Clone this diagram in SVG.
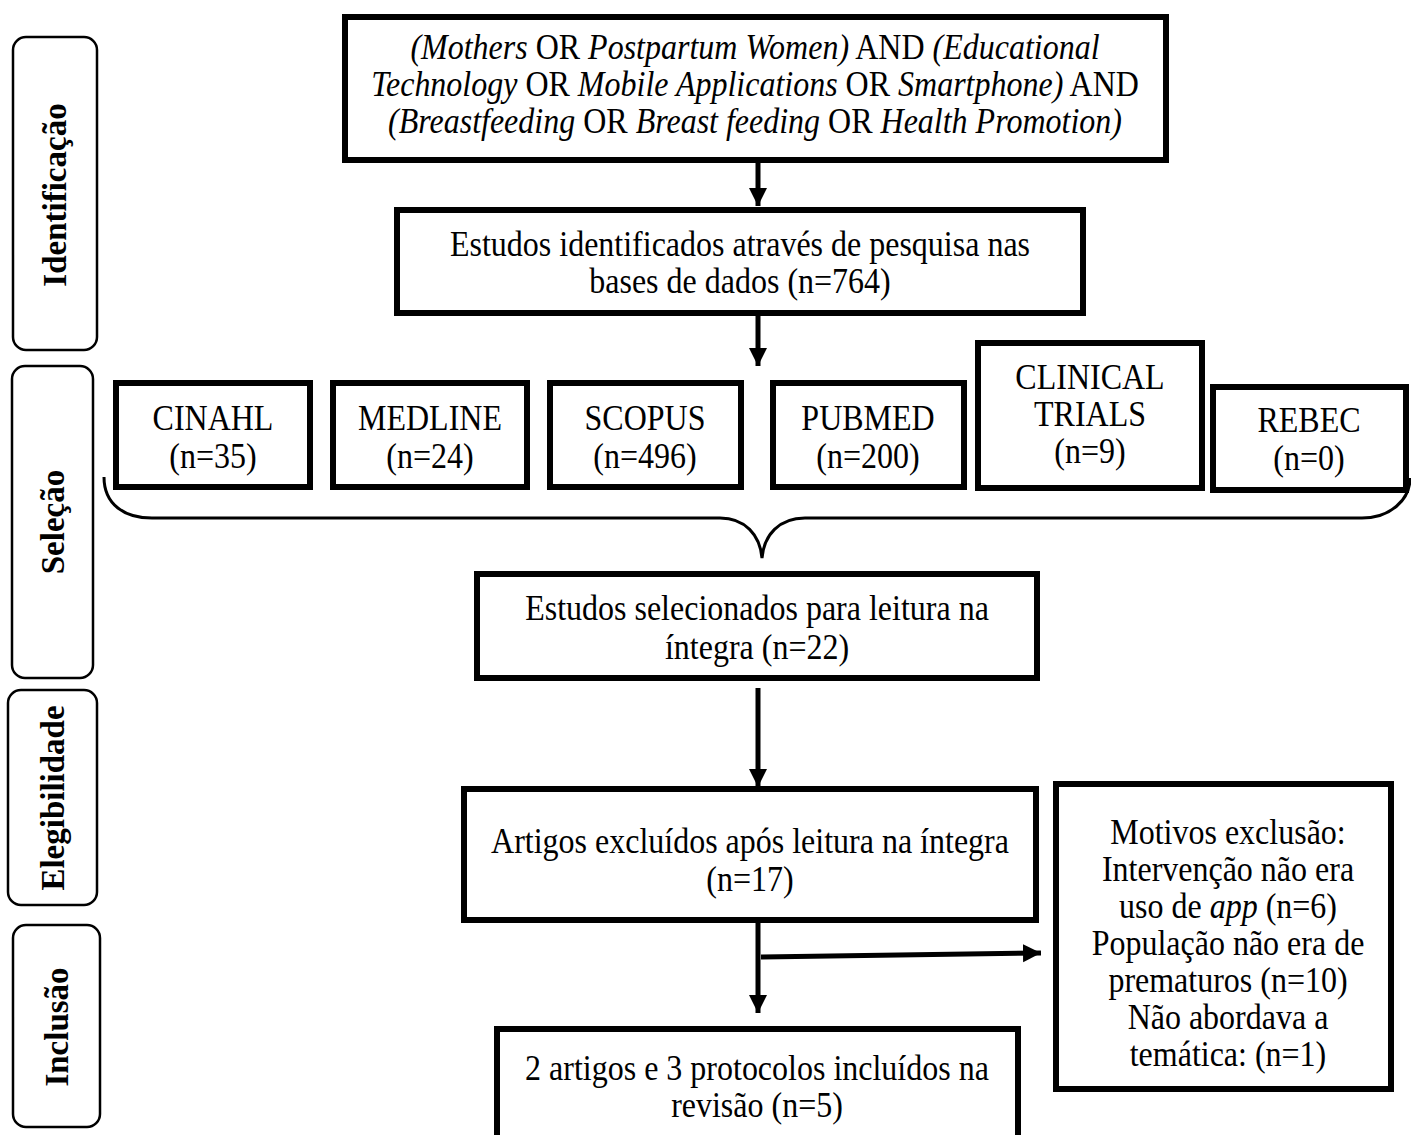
<svg xmlns="http://www.w3.org/2000/svg" width="1411" height="1135" viewBox="0 0 1411 1135">
<defs>
<style>
.box{fill:#fff;stroke:#000;stroke-width:6}
.phase{fill:#fff;stroke:#000;stroke-width:2.5}
.t{font-family:"Liberation Serif","Times New Roman",serif;font-size:32px;fill:#000;text-anchor:middle}
.ph{font-family:"Liberation Serif","Times New Roman",serif;font-size:33px;font-weight:bold;fill:#000;text-anchor:middle}
.i{font-style:italic}
.c{fill:none;stroke:#000;stroke-width:5}
.brace{fill:none;stroke:#000;stroke-width:3}
</style>
<marker id="ah" markerUnits="userSpaceOnUse" markerWidth="20" markerHeight="20" refX="18" refY="9" orient="auto">
<path d="M0,0 L18,9 L0,18 Z" fill="#000"/>
</marker>
</defs>
<rect width="1411" height="1135" fill="#fff"/>

<g id="phase-identificacao">
<rect class="phase" x="13" y="37" width="84" height="313" rx="13"/>
<text class="ph" transform="translate(66,195) rotate(-90)">Identificação</text>
</g>
<g id="phase-selecao">
<rect class="phase" x="12" y="366" width="81" height="312" rx="13"/>
<text class="ph" transform="translate(64,522) rotate(-90)">Seleção</text>
</g>
<g id="phase-elegibilidade">
<rect class="phase" x="8" y="690" width="89" height="215" rx="13"/>
<text class="ph" transform="translate(64,798) rotate(-90)">Elegibilidade</text>
</g>
<g id="phase-inclusao">
<rect class="phase" x="13" y="925" width="87" height="202" rx="13"/>
<text class="ph" transform="translate(68,1027) rotate(-90)">Inclusão</text>
</g>

<g id="search-string">
<rect class="box" x="345" y="17" width="821" height="143"/>
<text class="t" x="755" y="59" transform="matrix(1 0 0 1.1 0 -5.9)"><tspan class="i">(Mothers</tspan> OR <tspan class="i">Postpartum Women)</tspan> AND <tspan class="i">(Educational</tspan></text>
<text class="t" x="755" y="96" transform="matrix(1 0 0 1.1 0 -9.6)"><tspan class="i">Technology</tspan> OR <tspan class="i">Mobile Applications</tspan> OR <tspan class="i">Smartphone)</tspan> AND</text>
<text class="t" x="755" y="133" transform="matrix(1 0 0 1.1 0 -13.3)"><tspan class="i">(Breastfeeding</tspan> OR <tspan class="i">Breast feeding</tspan> OR <tspan class="i">Health Promotion)</tspan></text>
</g>

<g id="identified">
<rect class="box" x="397" y="210" width="686" height="103"/>
<text class="t" x="740" y="256" transform="matrix(1 0 0 1.1 0 -25.6)">Estudos identificados através de pesquisa nas</text>
<text class="t" x="740" y="293" transform="matrix(1 0 0 1.1 0 -29.3)">bases de dados (n=764)</text>
</g>

<g id="db-cinahl">
<rect class="box" x="116" y="383" width="194" height="104"/>
<text class="t" x="213" y="430" transform="matrix(1 0 0 1.1 0 -43)">CINAHL</text>
<text class="t" x="213" y="468" transform="matrix(1 0 0 1.1 0 -46.8)">(n=35)</text>
</g>
<g id="db-medline">
<rect class="box" x="333" y="383" width="194" height="104"/>
<text class="t" x="430" y="430" transform="matrix(1 0 0 1.1 0 -43)">MEDLINE</text>
<text class="t" x="430" y="468" transform="matrix(1 0 0 1.1 0 -46.8)">(n=24)</text>
</g>
<g id="db-scopus">
<rect class="box" x="550" y="383" width="191" height="104"/>
<text class="t" x="645" y="430" transform="matrix(1 0 0 1.1 0 -43)">SCOPUS</text>
<text class="t" x="645" y="468" transform="matrix(1 0 0 1.1 0 -46.8)">(n=496)</text>
</g>
<g id="db-pubmed">
<rect class="box" x="773" y="383" width="191" height="104"/>
<text class="t" x="868" y="430" transform="matrix(1 0 0 1.1 0 -43)">PUBMED</text>
<text class="t" x="868" y="468" transform="matrix(1 0 0 1.1 0 -46.8)">(n=200)</text>
</g>
<g id="db-clinical">
<rect class="box" x="978" y="343" width="224" height="145"/>
<text class="t" x="1090" y="389" transform="matrix(1 0 0 1.1 0 -38.9)">CLINICAL</text>
<text class="t" x="1090" y="426" transform="matrix(1 0 0 1.1 0 -42.6)">TRIALS</text>
<text class="t" x="1090" y="463" transform="matrix(1 0 0 1.1 0 -46.3)">(n=9)</text>
</g>
<g id="db-rebec">
<rect class="box" x="1213" y="387" width="193" height="103"/>
<text class="t" x="1309" y="432" transform="matrix(1 0 0 1.1 0 -43.2)">REBEC</text>
<text class="t" x="1309" y="470" transform="matrix(1 0 0 1.1 0 -47)">(n=0)</text>
</g>

<g id="selected">
<rect class="box" x="477" y="574" width="560" height="104"/>
<text class="t" x="757" y="620" transform="matrix(1 0 0 1.1 0 -62)">Estudos selecionados para leitura na</text>
<text class="t" x="757" y="659" transform="matrix(1 0 0 1.1 0 -65.9)">íntegra (n=22)</text>
</g>

<g id="excluded">
<rect class="box" x="464" y="789" width="572" height="131"/>
<text class="t" x="750" y="853" transform="matrix(1 0 0 1.1 0 -85.3)">Artigos excluídos após leitura na íntegra</text>
<text class="t" x="750" y="891" transform="matrix(1 0 0 1.1 0 -89.1)">(n=17)</text>
</g>

<g id="reasons">
<rect class="box" x="1056" y="784" width="335" height="305"/>
<text class="t" x="1228" y="844" transform="matrix(1 0 0 1.1 0 -84.4)">Motivos exclusão:</text>
<text class="t" x="1228" y="881" transform="matrix(1 0 0 1.1 0 -88.1)">Intervenção não era</text>
<text class="t" x="1228" y="918" transform="matrix(1 0 0 1.1 0 -91.8)">uso de <tspan class="i">app</tspan> (n=6)</text>
<text class="t" x="1228" y="955" transform="matrix(1 0 0 1.1 0 -95.5)">População não era de</text>
<text class="t" x="1228" y="992" transform="matrix(1 0 0 1.1 0 -99.2)">prematuros (n=10)</text>
<text class="t" x="1228" y="1029" transform="matrix(1 0 0 1.1 0 -102.9)">Não abordava a</text>
<text class="t" x="1228" y="1066" transform="matrix(1 0 0 1.1 0 -106.6)">temática: (n=1)</text>
</g>

<g id="included">
<path class="box" d="M497,1140 L497,1029 L1018,1029 L1018,1140"/>
<text class="t" x="757" y="1080" transform="matrix(1 0 0 1.1 0 -108)">2 artigos e 3 protocolos incluídos na</text>
<text class="t" x="757" y="1117" transform="matrix(1 0 0 1.1 0 -111.7)">revisão (n=5)</text>
</g>

<g id="connectors">
<line class="c" x1="758" y1="163" x2="758" y2="206" marker-end="url(#ah)"/>
<line class="c" x1="758" y1="316" x2="758" y2="366" marker-end="url(#ah)"/>
<path class="brace" d="M104,477 C104,505 125,518 152,518 L720,518 C745,518 760,535 762,558 C764,535 779,518 805,518 L1362,518 C1390,518 1410,500 1410,478"/>
<line class="c" x1="758" y1="688" x2="758" y2="787" marker-end="url(#ah)"/>
<line class="c" x1="758" y1="922" x2="758" y2="1013" marker-end="url(#ah)"/>
<line class="c" x1="761" y1="957" x2="1041" y2="953" marker-end="url(#ah)"/>
</g>
</svg>
